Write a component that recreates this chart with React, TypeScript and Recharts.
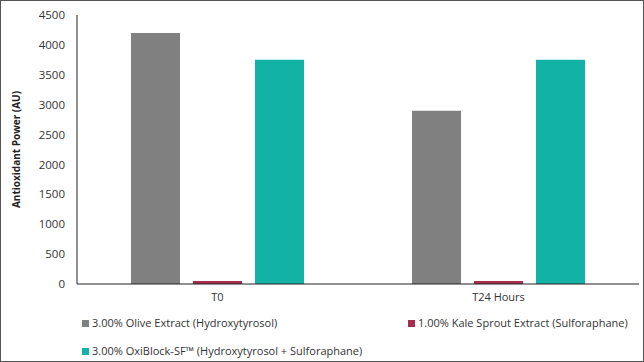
import { BarChart, Bar, XAxis, YAxis } from 'recharts'

const categories = ['T0', 'T24 Hours']
const olive = [4200, 2900]
const kale = [50, 50]
const oxiblock = [3750, 3750]
const yTicks = [0, 500, 1000, 1500, 2000, 2500, 3000, 3500, 4000, 4500]

const series = [
  { key: 'olive', name: '3.00% Olive Extract (Hydroxytyrosol)', color: '#808080' },
  { key: 'kale', name: '1.00% Kale Sprout Extract (Sulforaphane)', color: '#a62d4c' },
  { key: 'oxiblock', name: '3.00% OxiBlock-SF™ (Hydroxytyrosol + Sulforaphane)', color: '#12b2a6' },
]

const data = categories.map((c, i) => ({
  category: c,
  olive: olive[i],
  kale: kale[i],
  oxiblock: oxiblock[i],
}))

// legend spots, inside the border box
const legendPos = [
  { left: 81, top: 315 },
  { left: 407, top: 315 },
  { left: 81, top: 343 },
]

const font = '"Open Sans", sans-serif'

export default function App() {
  return (
    <>
      <style>{'body{margin:0}'}</style>
      <div
        style={{
          position: 'relative',
          width: 644,
          height: 362,
          boxSizing: 'border-box',
          border: '1px solid #555',
          background: '#fff',
          fontFamily: font,
        }}
      >
        <BarChart
          width={642}
          height={360}
          data={data}
          margin={{ top: 14, right: 4, bottom: 47, left: 0 }}
          barSize={49}
          barGap={13}
        >
          <XAxis
            dataKey="category"
            axisLine={{ stroke: '#222' }}
            tickLine={false}
            tickMargin={3}
            height={30}
            tick={{ fill: '#333', fontSize: 11, fontFamily: font }}
          />
          <YAxis
            domain={[0, 4500]}
            ticks={yTicks}
            width={76}
            axisLine={{ stroke: '#222' }}
            tickLine={false}
            tickMargin={6}
            tick={{ fill: '#333', fontSize: 11.5, fontFamily: font }}
            label={{
              value: 'Antioxidant Power (AU)',
              angle: -90,
              position: 'insideLeft',
              offset: 15,
              style: { textAnchor: 'middle', fontSize: 10, fontWeight: 'bold', fill: '#222', fontFamily: font },
            }}
          />
          {series.map((s) => (
            <Bar key={s.key} dataKey={s.key} name={s.name} fill={s.color} isAnimationActive={false} />
          ))}
        </BarChart>
        {series.map((s, i) => (
          <div
            key={s.key}
            style={{
              position: 'absolute',
              left: legendPos[i].left,
              top: legendPos[i].top,
              display: 'flex',
              alignItems: 'center',
              fontSize: 11,
              color: '#333',
              whiteSpace: 'nowrap',
              lineHeight: '14px',
            }}
          >
            <span style={{ display: 'inline-block', width: 7, height: 7, background: s.color, marginRight: 3 }} />
            {s.name}
          </div>
        ))}
      </div>
    </>
  )
}
